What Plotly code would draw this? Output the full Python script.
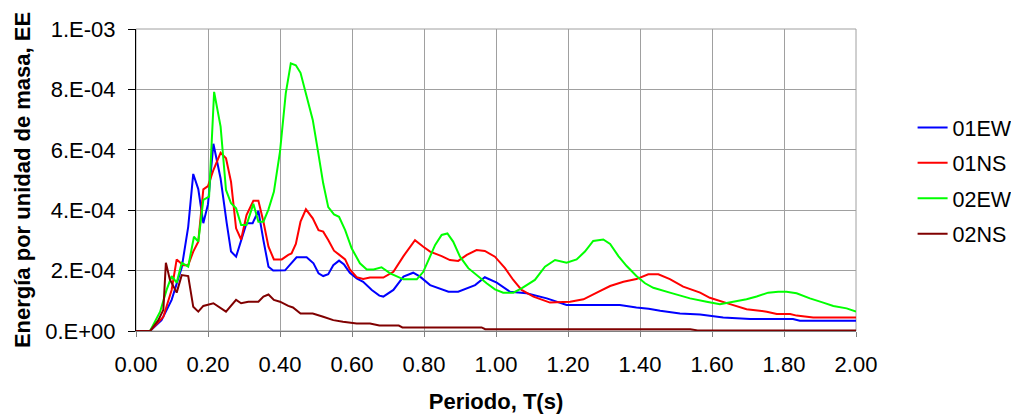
import plotly.graph_objects as go

# ---- data ----
t_01ew = [0.0, 0.039, 0.071, 0.099, 0.127, 0.145, 0.159, 0.173, 0.187, 0.200, 0.215, 0.235, 0.252, 0.264,
          0.278, 0.292, 0.307, 0.324, 0.340, 0.354, 0.368, 0.381, 0.414, 0.446, 0.474, 0.493, 0.507, 0.520,
          0.534, 0.548, 0.564, 0.578, 0.594, 0.613, 0.631, 0.655, 0.676, 0.687, 0.715, 0.743, 0.770, 0.789,
          0.817, 0.868, 0.895, 0.942, 0.969, 1.002, 1.039, 1.085, 1.141, 1.196, 1.344, 1.390, 1.424, 1.456,
          1.511, 1.567, 1.631, 1.706, 1.825, 1.844, 2.000]
e_01ew = [0.0, 0.0, 0.36, 1.03, 2.10, 3.45, 5.20, 4.70, 3.57, 4.20, 6.20, 5.05, 3.57, 2.63,
          2.46, 3.03, 3.57, 3.57, 3.98, 3.00, 2.13, 2.00, 2.01, 2.44, 2.44, 2.24, 1.91, 1.82,
          1.88, 2.18, 2.33, 2.20, 1.93, 1.74, 1.63, 1.36, 1.17, 1.14, 1.36, 1.80, 1.93, 1.80,
          1.52, 1.30, 1.30, 1.52, 1.78, 1.60, 1.30, 1.25, 1.08, 0.86, 0.86, 0.78, 0.74, 0.67,
          0.58, 0.55, 0.45, 0.40, 0.40, 0.34, 0.34]

t_01ns = [0.0, 0.039, 0.076, 0.099, 0.113, 0.131, 0.145, 0.159, 0.173, 0.187, 0.200, 0.215, 0.235, 0.250,
          0.264, 0.278, 0.292, 0.307, 0.326, 0.340, 0.354, 0.368, 0.383, 0.405, 0.423, 0.432, 0.444, 0.457,
          0.472, 0.491, 0.507, 0.520, 0.534, 0.550, 0.565, 0.581, 0.594, 0.613, 0.631, 0.650, 0.687, 0.715,
          0.743, 0.775, 0.798, 0.817, 0.849, 0.872, 0.895, 0.919, 0.946, 0.969, 0.997, 1.025, 1.048, 1.071,
          1.104, 1.150, 1.206, 1.243, 1.280, 1.317, 1.354, 1.390, 1.423, 1.451, 1.483, 1.520, 1.567, 1.594,
          1.650, 1.696, 1.752, 1.780, 1.817, 1.835, 1.881, 2.000]
e_01ns = [0.0, 0.0, 0.47, 1.36, 2.37, 2.18, 2.18, 2.63, 2.96, 4.69, 4.80, 5.33, 5.90, 5.72,
          4.94, 3.40, 3.03, 3.84, 4.31, 4.31, 3.62, 2.79, 2.37, 2.37, 2.52, 2.57, 2.88, 3.62,
          4.03, 3.73, 3.34, 3.29, 3.01, 2.66, 2.52, 2.37, 2.04, 1.78, 1.72, 1.77, 1.77, 1.96,
          2.48, 3.01, 2.79, 2.63, 2.48, 2.35, 2.32, 2.52, 2.68, 2.65, 2.46, 2.08, 1.69, 1.36,
          1.14, 0.94, 0.97, 1.05, 1.27, 1.49, 1.63, 1.72, 1.88, 1.88, 1.72, 1.47, 1.27, 1.10,
          0.89, 0.72, 0.64, 0.56, 0.56, 0.51, 0.45, 0.45]

t_02ew = [0.0, 0.039, 0.067, 0.085, 0.099, 0.113, 0.127, 0.145, 0.161, 0.173, 0.187, 0.203, 0.217, 0.235,
          0.250, 0.264, 0.278, 0.292, 0.307, 0.326, 0.340, 0.354, 0.368, 0.383, 0.400, 0.416, 0.430, 0.444,
          0.457, 0.474, 0.491, 0.505, 0.520, 0.534, 0.550, 0.564, 0.581, 0.599, 0.622, 0.641, 0.660, 0.682,
          0.706, 0.743, 0.780, 0.798, 0.831, 0.849, 0.865, 0.881, 0.900, 0.923, 0.946, 0.974, 0.997, 1.020,
          1.048, 1.071, 1.108, 1.136, 1.164, 1.196, 1.224, 1.247, 1.270, 1.298, 1.317, 1.340, 1.363, 1.390,
          1.414, 1.437, 1.483, 1.539, 1.585, 1.622, 1.659, 1.696, 1.724, 1.756, 1.784, 1.807, 1.835, 1.872,
          1.909, 1.937, 1.974, 2.000]
e_02ew = [0.0, 0.0, 0.64, 1.36, 1.82, 1.60, 2.26, 2.13, 3.12, 2.96, 4.34, 4.45, 7.92, 6.77,
          4.67, 4.23, 4.06, 3.51, 3.51, 4.21, 3.62, 3.62, 4.03, 4.61, 5.94, 7.87, 8.86, 8.80,
          8.55, 7.76, 6.99, 5.99, 4.89, 4.10, 3.86, 3.78, 3.34, 2.74, 2.24, 2.04, 2.04, 2.11,
          1.91, 1.71, 1.71, 1.96, 2.85, 3.18, 3.23, 2.96, 2.46, 2.08, 1.85, 1.58, 1.38, 1.27,
          1.27, 1.41, 1.69, 2.13, 2.35, 2.26, 2.37, 2.63, 2.98, 3.03, 2.88, 2.48, 2.15, 1.82,
          1.58, 1.43, 1.27, 1.08, 0.97, 0.89, 0.97, 1.05, 1.14, 1.27, 1.30, 1.30, 1.25, 1.08,
          0.94, 0.83, 0.75, 0.64]

t_02ns = [0.0, 0.039, 0.062, 0.076, 0.083, 0.094, 0.113, 0.127, 0.145, 0.159, 0.173, 0.187, 0.215, 0.250,
          0.278, 0.292, 0.312, 0.340, 0.354, 0.368, 0.383, 0.400, 0.423, 0.436, 0.457, 0.491, 0.520, 0.548,
          0.575, 0.613, 0.650, 0.676, 0.730, 0.740, 0.960, 0.970, 1.540, 1.560, 2.000]
e_02ns = [0.0, 0.0, 0.36, 0.70, 2.26, 1.71, 1.27, 1.85, 1.82, 0.80, 0.64, 0.83, 0.92, 0.64,
          1.03, 0.92, 0.97, 0.97, 1.14, 1.21, 1.03, 0.97, 0.83, 0.78, 0.58, 0.58, 0.47, 0.36,
          0.31, 0.25, 0.25, 0.18, 0.18, 0.12, 0.12, 0.06, 0.06, 0.02, 0.02]

SCALE = 1e-4  # values above are in units of 1e-4

series_names = ["01EW", "01NS", "02EW", "02NS"]
series_t = [t_01ew, t_01ns, t_02ew, t_02ns]
series_e = [e_01ew, e_01ns, e_02ew, e_02ns]
series_colors = ["#0000FF", "#FF0000", "#00FF00", "#800000"]

y_tickvals = [0, 2e-4, 4e-4, 6e-4, 8e-4, 1e-3]
y_ticktext = ["0.E+00", "2.E-04", "4.E-04", "6.E-04", "8.E-04", "1.E-03"]
x_tickvals = [0.0, 0.2, 0.4, 0.6, 0.8, 1.0, 1.2, 1.4, 1.6, 1.8, 2.0]

FONT = "Liberation Sans, Arial, sans-serif"
GRID = "#a0a0a0"
TICK_SIZE = 22
LEGEND_SIZE = 21.5
TITLE_SIZE = 22

fig = go.Figure()
for name, t, e, c in zip(series_names, series_t, series_e, series_colors):
    fig.add_trace(go.Scatter(
        x=t, y=[v * SCALE for v in e], mode="lines", name=name,
        legendgroup=name,
        line=dict(color=c, width=2),
    ))

# the page body adds an 8px margin, so the figure is sized to fit the 1019x417 window
fig.update_layout(
    template="none",
    width=1011, height=409,
    margin=dict(l=128, r=163, t=21, b=86, autoexpand=False),
    paper_bgcolor="white", plot_bgcolor="white",
    font=dict(family=FONT, size=TICK_SIZE, color="black"),
    showlegend=True,
    legend=dict(
        x=1.0786, xanchor="left", y=0.497, yanchor="middle",
        font=dict(family=FONT, size=LEGEND_SIZE, color="black"),
        tracegroupgap=4.5, bgcolor="rgba(0,0,0,0)", borderwidth=0,
    ),
    xaxis=dict(
        range=[0, 2.0], tickvals=x_tickvals, tickformat=".2f",
        showgrid=True, gridcolor=GRID, gridwidth=1,
        showline=True, linecolor="#808080", linewidth=1,
        ticks="outside", ticklen=5, tickcolor="#808080",
        zeroline=False, automargin=False, ticklabelstandoff=9,
        tickfont=dict(family=FONT, size=TICK_SIZE),
        title=dict(text="<b>Periodo, T(s)</b>", font=dict(family=FONT, size=TITLE_SIZE), standoff=17),
    ),
    yaxis=dict(
        range=[0, 1e-3], tickvals=y_tickvals, ticktext=y_ticktext,
        showgrid=True, gridcolor=GRID, gridwidth=1,
        showline=True, linecolor="black", linewidth=1,
        ticks="outside", ticklen=7, tickcolor="black",
        zeroline=False, automargin=False, ticklabelstandoff=8,
        tickfont=dict(family=FONT, size=TICK_SIZE),
        title=dict(text="<b>Energía por unidad de masa, EE</b>", font=dict(family=FONT, size=TITLE_SIZE), standoff=8),
    ),
    shapes=[dict(type="rect", xref="x domain", yref="y domain", x0=0, x1=1, y0=0, y1=1,
                 line=dict(color=GRID, width=1), layer="below")],
)

fig.write_html("out.html")
